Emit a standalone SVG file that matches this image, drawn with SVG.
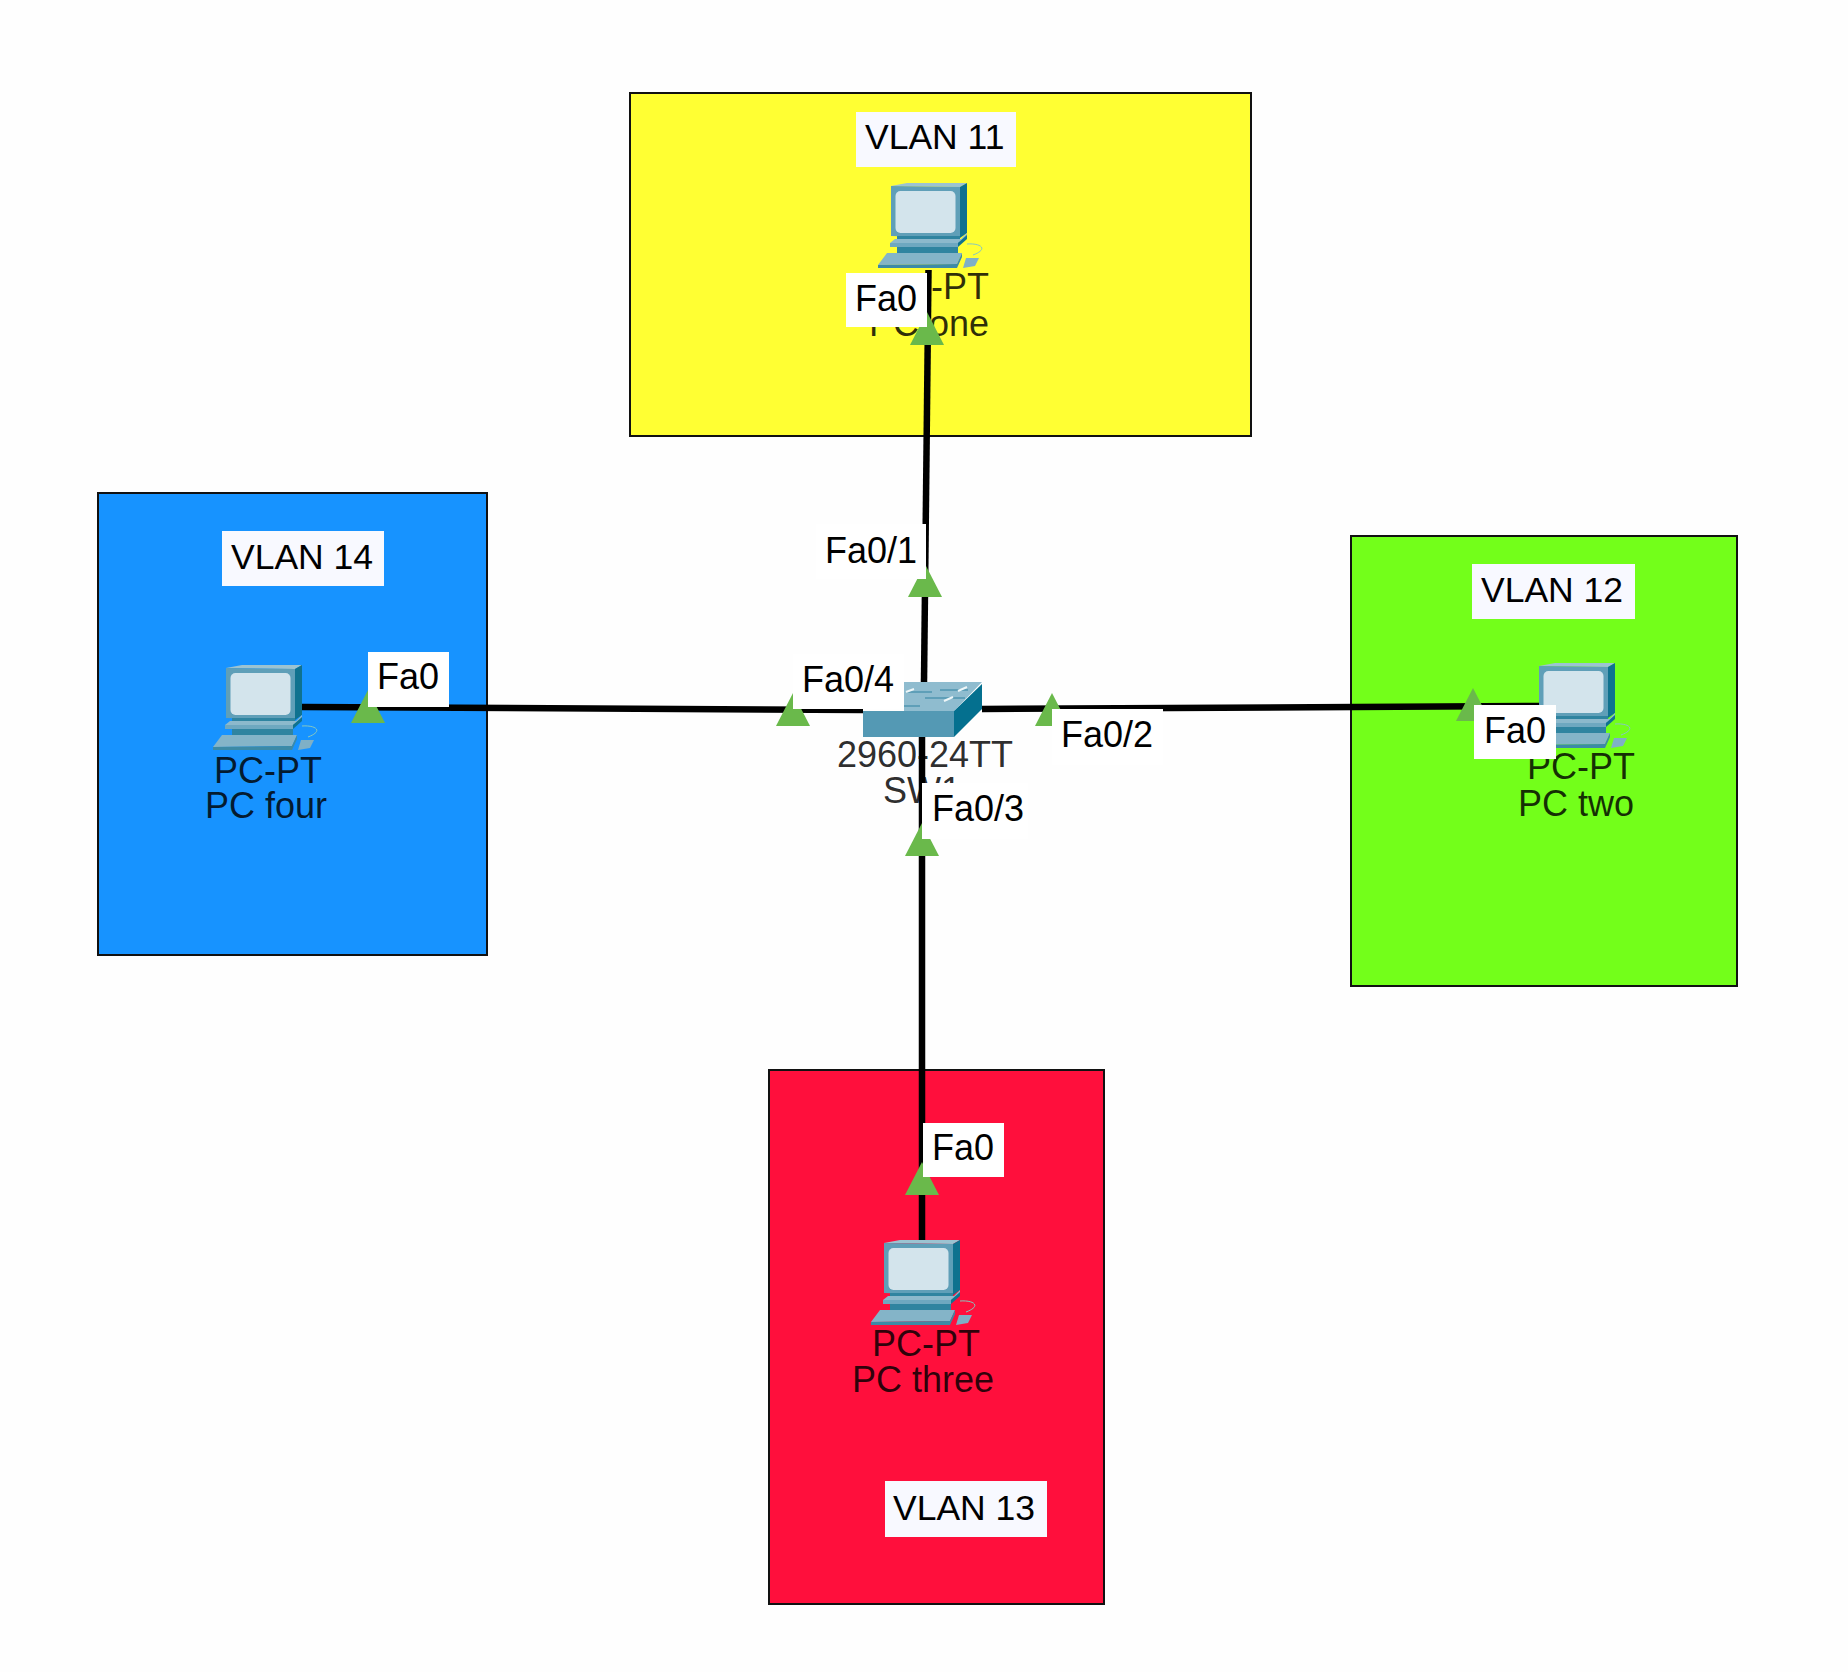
<svg xmlns="http://www.w3.org/2000/svg" xmlns:xlink="http://www.w3.org/1999/xlink" width="1848" height="1672" viewBox="0 0 1848 1672">
<style>
text{font-family:"Liberation Sans",Arial,Helvetica,sans-serif;font-size:36px;fill:#000}
.zone{stroke:#111;stroke-width:2}
.vbg{fill:#f8f9ff}
.wbg{fill:#fff}
.dev{font-size:36px;fill:#000;fill-opacity:.82}
.link{stroke:#000;stroke-width:6.5;fill:none}
.tri{fill:#6ab94b}
</style>
<defs>
<g id="pc">
<polygon points="0,3 16,0 76,0 69,4" fill="#9cc3d1"/>
<polygon points="69,4 76,0 76,50 69,55" fill="#0f728f"/>
<polygon points="0,3 69,4 69,55 0,53" fill="#5f9fb8"/>
<rect x="4.5" y="8" width="60" height="42" rx="5" fill="#d3e4ec"/>
<rect x="6" y="53" width="63" height="7" fill="#2f84a0"/>
<polygon points="4,56 70,56 76,50 76,54 67,60 -1,60" fill="#8cb9cc"/>
<polygon points="-1,60 67,60 67,64 -1,64" fill="#6ea8c0"/>
<polygon points="67,60 76,52 76,56 67,64" fill="#0f728f"/>
<rect x="6" y="64" width="61" height="6" fill="#2f84a0"/>
<polygon points="-4,70 71,70 66,81 -13,82" fill="#84b4c8"/>
<polygon points="66,81 71,70 71,74 66,85 -13,85 -13,82" fill="#3c8aa6"/>
<polygon points="75,75 88,75 84,83 72,85" fill="#7fb0c6"/>
<path d="M76,61C90,60 98,66 82,72" fill="none" stroke="#86c8c0" stroke-width="1"/>
</g>
<polygon id="tri" class="tri" points="0,-33 17,0 -17,0"/>
</defs>
<rect width="1848" height="1672" fill="#fefefe"/>
<g id="zones">
<rect id="vlan11-area" class="zone" x="630" y="93" width="621" height="343" fill="#ffff33"/>
<rect id="vlan14-area" class="zone" x="98" y="493" width="389" height="462" fill="#1793ff"/>
<rect id="vlan12-area" class="zone" x="1351" y="536" width="386" height="450" fill="#73ff1a"/>
<rect id="vlan13-area" class="zone" x="769" y="1070" width="335" height="534" fill="#ff0f3c"/>
</g>
<g id="pc-one">
<use xlink:href="#pc" href="#pc" x="891" y="183"/>
<text class="dev" x="881" y="299">PC-PT</text>
<text class="dev" x="869" y="336">PC one</text>
</g>
<g id="pc-two">
<use xlink:href="#pc" href="#pc" x="1539" y="663"/>
<text class="dev" x="1527" y="779">PC-PT</text>
<text class="dev" x="1518" y="816">PC two</text>
</g>
<g id="pc-three">
<use xlink:href="#pc" href="#pc" x="884" y="1240"/>
<text class="dev" x="872" y="1356">PC-PT</text>
<text class="dev" x="852" y="1392">PC three</text>
</g>
<g id="pc-four">
<use xlink:href="#pc" href="#pc" x="226" y="665"/>
<text class="dev" x="214" y="783">PC-PT</text>
<text class="dev" x="205" y="818">PC four</text>
</g>
<g id="switch">
<polygon points="904,682 982,682 954,711 863,711 904,711" fill="#8fbccf"/>
<path d="M906,692H932M940,690H968M925,698H965M880,706H920" stroke="#5f9fb8" stroke-width="2" fill="none"/>
<path d="M958,691l9,-4M944,701l9,-4M906,692l8,-3" stroke="#eef6f8" stroke-width="2" fill="none"/>
<polygon points="863,711 954,711 954,737 863,737" fill="#5499b4"/>
<polygon points="954,711 982,684 982,709 954,737" fill="#04708f"/>
<text class="dev" style="fill-opacity:.84" x="837" y="767">2960-24TT</text>
<text class="dev" style="fill-opacity:.84" x="883" y="803">SW1</text>
</g>
<g id="connectors">
<line class="link" x1="928.5" y1="270" x2="924" y2="682"/>
<line class="link" x1="1539" y1="706" x2="982" y2="709"/>
<line class="link" x1="922" y1="737" x2="922" y2="1240"/>
<line class="link" x1="302" y1="707" x2="863" y2="710"/>
<use href="#tri" x="927" y="345"/>
<use href="#tri" x="925" y="597"/>
<use href="#tri" x="1052" y="726"/>
<use href="#tri" x="1473" y="721"/>
<use href="#tri" x="922" y="856"/>
<use href="#tri" x="922" y="1195"/>
<use href="#tri" x="793" y="726"/>
<use href="#tri" x="368" y="723"/>
</g>
<g id="port-labels">
<rect class="wbg" x="846" y="273" width="81" height="54"/><text x="855" y="311">Fa0</text>
<rect class="wbg" x="816" y="524" width="110" height="55"/><text x="825" y="563">Fa0/1</text>
<rect class="wbg" x="793" y="654" width="111" height="55"/><text x="802" y="692">Fa0/4</text>
<rect class="wbg" x="1052" y="709" width="111" height="56"/><text x="1061" y="747">Fa0/2</text>
<rect class="wbg" x="922" y="783" width="106" height="56"/><text x="932" y="821">Fa0/3</text>
<rect class="wbg" x="1474" y="705" width="82" height="54"/><text x="1484" y="743">Fa0</text>
<rect class="wbg" x="923" y="1123" width="81" height="54"/><text x="932" y="1160">Fa0</text>
<rect class="wbg" x="368" y="652" width="81" height="55"/><text x="377" y="689">Fa0</text>
</g>
<g id="vlan-labels">
<rect class="vbg" x="856" y="112" width="160" height="55"/><text x="865" y="149" style="font-size:35.5px">VLAN 11</text>
<rect class="vbg" x="222" y="531" width="162" height="55"/><text x="231" y="569" style="font-size:35.5px">VLAN 14</text>
<rect class="vbg" x="1472" y="564" width="163" height="55"/><text x="1481" y="602" style="font-size:35.5px">VLAN 12</text>
<rect class="vbg" x="885" y="1481" width="162" height="56"/><text x="893" y="1520" style="font-size:35.5px">VLAN 13</text>
</g>
</svg>
